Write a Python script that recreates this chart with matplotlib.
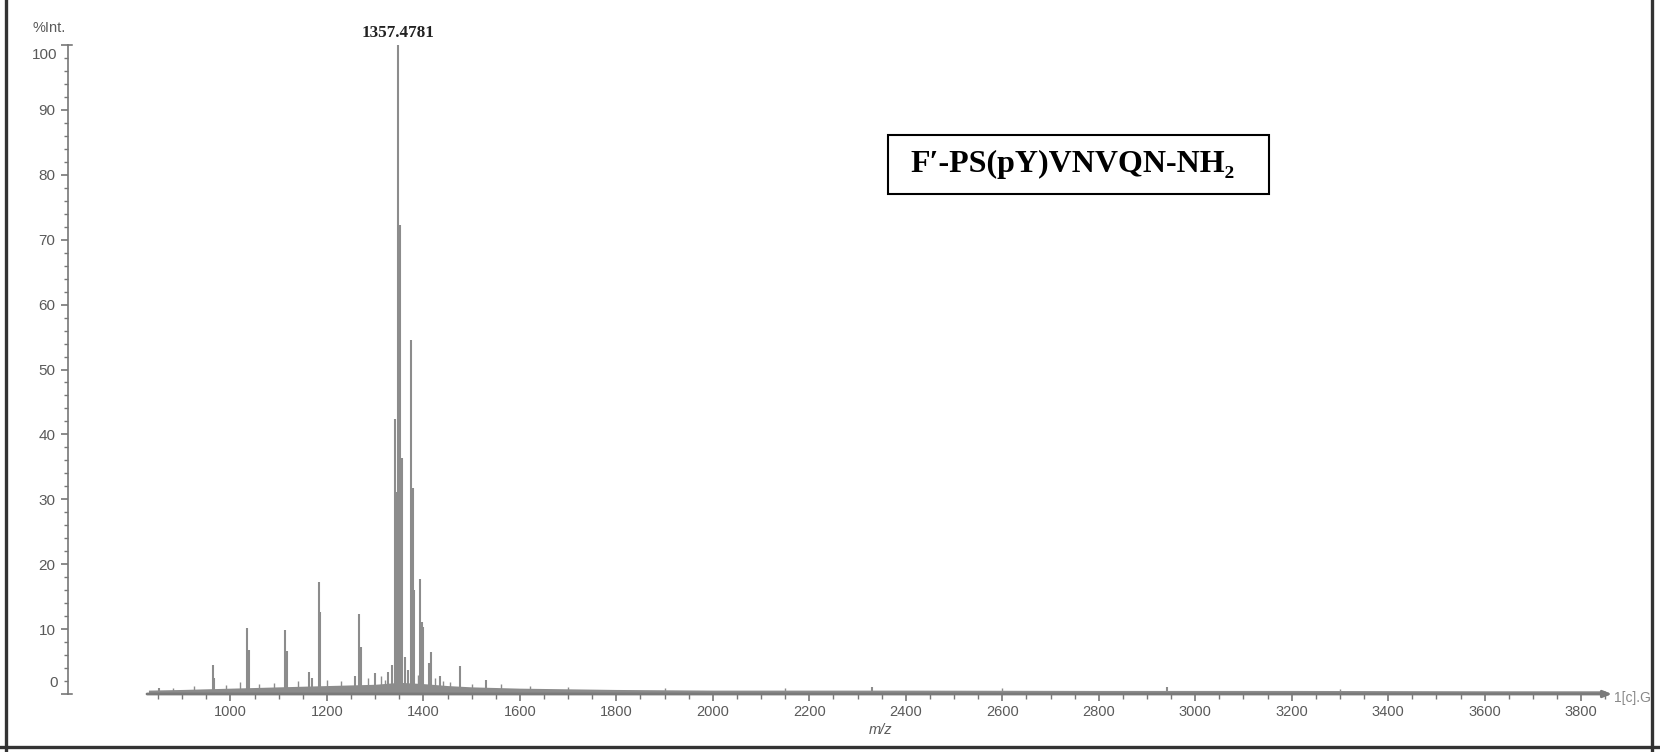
import numpy as np
import matplotlib.pyplot as plt
from matplotlib.lines import Line2D
from matplotlib.patches import Rectangle
from matplotlib.ticker import MultipleLocator
from matplotlib.transforms import ScaledTranslation

# peaks (m/z, % intensity)
peak_mz = [851, 963.5, 965, 1034, 1038, 1114, 1117, 1163.7, 1170, 1183, 1186,
           1258, 1267, 1270, 1300, 1327, 1334.5, 1341.3, 1344.9, 1348.2, 1350.7,
           1356.5, 1362, 1369, 1374.5, 1379.3, 1381.3, 1393, 1396.7, 1400,
           1412.4, 1416, 1434.6, 1475, 1529.6, 2330, 2941]
peak_int = [1.0, 4.5, 2.5, 10.1, 6.8, 9.9, 6.7, 3.4, 2.4, 17.2, 12.7,
            2.8, 12.4, 7.3, 3.2, 3.4, 4.5, 42.3, 31.2, 100.0, 72.3,
            36.3, 5.7, 3.7, 54.5, 31.7, 16.0, 17.7, 11.1, 10.4,
            4.8, 6.4, 2.7, 4.3, 2.1, 1.1, 1.1]

# small spikes sitting in the baseline
spike_mz = [880, 925, 990, 1020, 1060, 1090, 1140, 1200, 1230, 1285, 1312, 1320,
            1388, 1425, 1440, 1455, 1500, 1560, 1620, 1700, 1900, 2150, 2600, 3300]
spike_int = [1.0, 1.2, 1.4, 1.8, 1.6, 1.7, 2.0, 2.2, 2.0, 2.5, 2.8, 2.2,
             3.0, 2.4, 2.0, 1.8, 1.6, 1.5, 1.2, 1.1, 1.0, 0.9, 0.9, 0.8]

# baseline noise envelope
noise_mz = [830, 900, 950, 1000, 1050, 1100, 1150, 1200, 1250, 1300, 1350, 1400,
            1450, 1500, 1600, 1700, 1800, 2000, 2400, 2800, 3200, 3600, 3850]
noise_top = [0.6, 0.7, 0.8, 0.9, 1.0, 1.1, 1.2, 1.3, 1.4, 1.5, 1.8, 1.6,
             1.3, 1.1, 0.9, 0.8, 0.7, 0.6, 0.6, 0.55, 0.55, 0.5, 0.5]

xticks = list(range(1000, 3801, 200))
yticks = list(range(0, 101, 10))

base_label = "1357.4781"
peptide = "F\u2032-PS(pY)VNVQN-NH\u2082"

W, H = 1660, 752
gray = '#8c8c8c'
txtgray = '#5a5a5a'

fig = plt.figure(figsize=(W/100, H/100), dpi=100)
ax = fig.add_axes([147/W, 58/H, 1465/W, 649/H])

ax.fill_between(noise_mz, 0, noise_top, color=gray, lw=0, zorder=2)
ax.vlines(spike_mz, 0, spike_int, color=gray, lw=1.0, zorder=2)
ax.vlines(peak_mz, 0, peak_int, color=gray, lw=1.5, zorder=2)

ax.set_xlim(827, 3864)
ax.set_ylim(0, 100)

for s in ['top', 'right', 'bottom']:
    ax.spines[s].set_visible(False)
ax.spines['left'].set_position(('outward', 79*0.72))
ax.spines['left'].set_color('#777777')
ax.spines['left'].set_linewidth(1.2)

# x axis drawn as an arrow
ax.annotate('', xy=(1, 0), xycoords='axes fraction', xytext=(0, 0),
            textcoords='axes fraction',
            arrowprops=dict(arrowstyle='-|>,head_length=0.5,head_width=0.2',
                            color='#7a7a7a', lw=2.0, shrinkA=0, shrinkB=0),
            zorder=3, annotation_clip=False)

ax.set_xticks(xticks)
ax.xaxis.set_minor_locator(MultipleLocator(50))
ax.set_yticks(yticks)
ax.yaxis.set_minor_locator(MultipleLocator(2))
ax.set_yticklabels(['' if v in (0, 100) else str(v) for v in yticks])

ax.tick_params(axis='x', which='major', direction='out', length=5, width=1.2,
               colors='#777777', labelcolor=txtgray, labelsize=10.5, pad=3)
ax.tick_params(axis='x', which='minor', direction='out', length=3.5, width=1.0,
               colors='#777777')
ax.tick_params(axis='y', which='major', direction='out', length=5, width=1.2,
               colors='#777777', labelcolor=txtgray, labelsize=11, pad=4)
ax.tick_params(axis='y', which='minor', direction='out', length=3, width=1.0,
               colors='#777777')
for lab in ax.get_xticklabels() + ax.get_yticklabels():
    lab.set_family('Liberation Sans')

# end labels of y axis sit a little inside the axis range
ytr = ax.get_yaxis_transform() + ScaledTranslation(-(79+5+5.5)/100, 0, fig.dpi_scale_trans)
ax.text(0, 98.4, '100', transform=ytr, ha='right', va='center', fontsize=11,
        color=txtgray, family='Liberation Sans')
ax.text(0, 1.7, '0', transform=ytr, ha='right', va='center', fontsize=11,
        color=txtgray, family='Liberation Sans')

# bracket ends on the y axis
btr = ax.get_yaxis_transform() + ScaledTranslation(-79/100, 0, fig.dpi_scale_trans)
for yv in (0, 100):
    ax.annotate('', xy=(0, yv), xycoords=btr, xytext=(3, 0), textcoords='offset points',
                arrowprops=dict(arrowstyle='-', color='#777777', lw=1.2,
                                shrinkA=0, shrinkB=0), annotation_clip=False)

i = int(np.argmax(peak_int))
ax.annotate(base_label, xy=(peak_mz[i], peak_int[i]), xytext=(0, 3),
            textcoords='offset points', ha='center', va='bottom', fontsize=12.3,
            fontweight='bold', family=['Liberation Serif', 'DejaVu Serif'],
            color='#222222', annotation_clip=False)

fig.text(32/W, 1-28/H, '%Int.', ha='left', va='center', fontsize=10.5,
         color=txtgray, family='Liberation Sans')
fig.text(881/W, 1-730/H, 'm/z', ha='center', va='center', fontsize=10.5,
         style='italic', color=txtgray, family='Liberation Sans')
fig.text(1614/W, 1-698/H, '1[c].G', ha='left', va='center', fontsize=10,
         color='#888888', family='Liberation Sans')

# sequence box
fig.add_artist(Rectangle((888/W, 1-194/H), 381/W, 59/H, transform=fig.transFigure,
                         fill=False, ec='black', lw=1.5))
fig.text(910/W, 1-164/H, peptide, ha='left', va='center', fontsize=23,
         fontweight='bold', family=['Liberation Serif', 'DejaVu Serif'], color='black')

# scan frame
for xs, ys in [([6/W, 6/W], [0, 1]), ([1652/W, 1652/W], [0, 1]), ([0, 1], [5/H, 5/H])]:
    fig.add_artist(Line2D(xs, ys, transform=fig.transFigure, color='#333333',
                          lw=2.4, zorder=10))

fig.savefig('out.png', dpi=100)
